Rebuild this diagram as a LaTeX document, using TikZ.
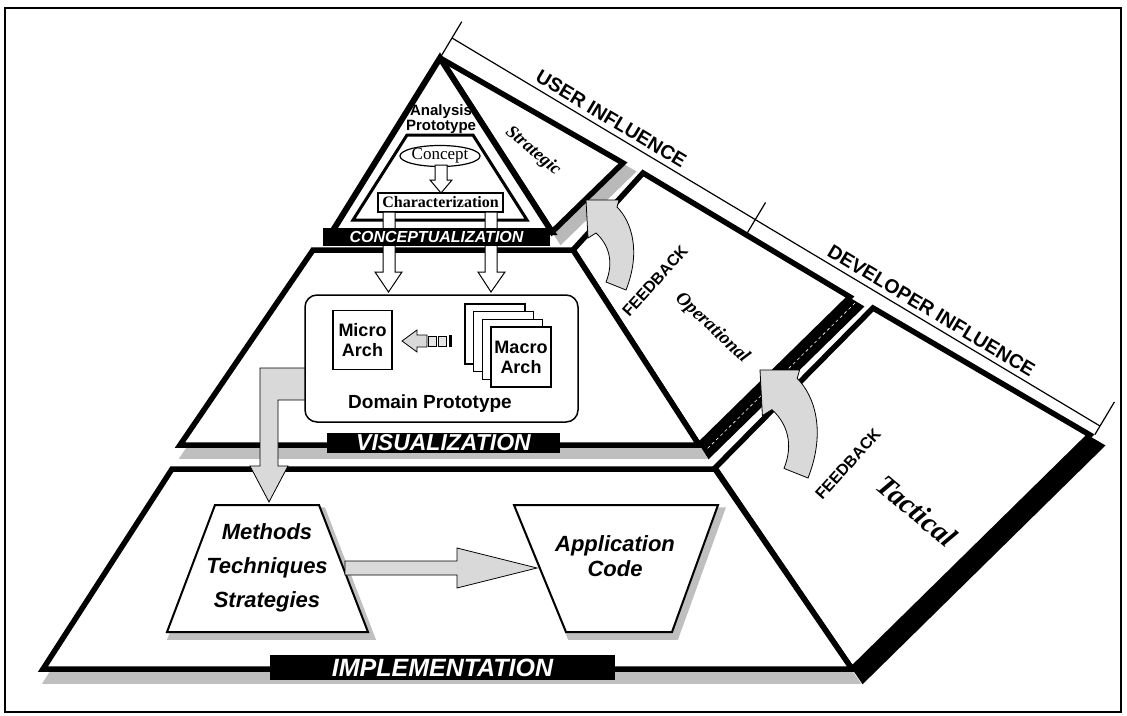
\documentclass[tikz,border=0pt]{standalone}
\usepackage{fontspec}
\setmainfont{Liberation Serif}
\setsansfont{Liberation Sans}
\usetikzlibrary{calc,shapes.geometric}

\newcommand{\fsz}[1]{\fontsize{#1}{#1}\selectfont}

\tikzset{
  panel/.style={draw=black, line width=5.5pt, fill=white, line join=miter, miter limit=4},
  castshade/.style 2 args={preaction={draw=#1, fill=#1, line width=5.5pt, line join=miter,
      miter limit=4, transform canvas={shift={#2}}}},
  levelbar/.style={fill=black, text=white, inner sep=0pt},
  blockarrow/.style={draw=black, line width=0.8pt, fill=gray!30},
  hollowarrow/.style={draw=black, line width=1pt, fill=white},
  thinbox/.style={draw=black, line width=1.5pt, fill=white},
  fbarrow/.pic={
    \draw[blockarrow] (0,0) -- (33,0) -- (31,7) .. controls (46,22) and (55,52) .. (40,90)
      -- (20,82) .. controls (28,62) and (23,45) .. (10,33) -- (2,38) -- cycle;
  },
}

\begin{document}
\begin{tikzpicture}[x=1pt, y=-1pt]
\useasboundingbox (0,0) rectangle (1127,715);

% Frame
\draw[line width=2pt] (5,8) rectangle (1121,712);

% Influence line
\coordinate (apex) at (440,58);
\coordinate (infstart) at (452,38);
\coordinate (infend) at (1100,426);
\coordinate (midtick) at ($(infstart)!0.468!(infend)$);
\draw[line width=1.2pt] (infstart) -- (infend)
  node[pos=0.236, sloped, anchor=south, inner sep=5pt, font=\sffamily\bfseries\fsz{19.5}] (userlbl) {USER INFLUENCE}
  node[pos=0.73, sloped, anchor=south, inner sep=5pt, font=\sffamily\bfseries\fsz{19.5}] (devlbl) {DEVELOPER INFLUENCE};
\draw[line width=1.2pt] ($(infstart)!19pt!90:(infend)$) -- (apex);
\draw[line width=1.2pt] ($(midtick)!20pt!90:(infend)$) -- ($(midtick)!16pt!-90:(infend)$);
\draw[line width=1.2pt] ($(infend)!28pt!-90:(infstart)$) -- ($(infend)!10pt!90:(infstart)$);

% Tactical and operational panels
\draw[castshade={black}{(11pt,-11pt)}, panel] (873,308) -- (1090,435) -- (852,669) -- (715,468) -- cycle;
\draw[castshade={black}{(10pt,-10pt)}, panel] (643,173) -- (850,297) -- (699,445) -- (573,250) -- cycle;
\draw[white, line width=0.6pt, dash pattern=on 3pt off 3pt] (855,303) -- (706,450);

% Implementation and visualization levels
\draw[castshade={gray!50}{(4pt,-12pt)}, panel] (172,469) -- (715,469) -- (852,669) -- (43,669) -- cycle;
\draw[castshade={gray!50}{(4pt,-11pt)}, panel] (313,250) -- (573,250) -- (699,445) -- (180,445) -- cycle;

% Strategic panel
\draw[castshade={gray!55}{(9pt,-9pt)}, panel] (apex) -- (623,163) -- (552,232) -- cycle;

% Conceptualization triangle
\fill[white] (apex) -- (552,232) -- (332,232) -- cycle;
\node[font=\sffamily\bfseries\fsz{15}, align=center, inner sep=0pt] (analysis) at (441,119) {Analysis\\Prototype};
\draw[line width=6pt, line join=miter, miter limit=4] (apex) -- (552,232) -- (332,232) -- cycle;
\draw[line width=3pt, line join=miter] (407,135) -- (473,135) -- (527,220) -- (353,220) -- cycle;
\node[draw, ellipse, line width=1.2pt, fill=white, minimum width=74pt, minimum height=18pt,
  inner sep=0pt, font=\fsz{17}] (concept) at (440,156) {Concept};
\draw[hollowarrow] (435,165) -- (447,165) -- (447,180) -- (452,180) -- (441,193) -- (430,180) -- (435,180) -- cycle;
\node[draw, line width=1.2pt, fill=white, minimum width=125pt, minimum height=19pt,
  inner sep=0pt, font=\bfseries\fsz{16}] (charact) at (440.5,202.5) {Characterization};

% Arrows down to the domain prototype
\draw[hollowarrow] (383,212) -- (395,212) -- (395,272) -- (402,272) -- (388.5,292) -- (375,272) -- (383,272) -- cycle;
\draw[hollowarrow] (485,212) -- (497,212) -- (497,272) -- (505,272) -- (491,292) -- (478,272) -- (485,272) -- cycle;
\node[levelbar, minimum width=227pt, minimum height=18pt, font=\sffamily\bfseries\itshape\fsz{16}] (conbar) at (436.5,237) {CONCEPTUALIZATION};

% L arrow from domain prototype to implementation
\draw[blockarrow] (310,368) -- (260,368) -- (260,466) -- (250,466) -- (269,502) -- (288,466)
  -- (278,466) -- (278,400) -- (310,400) -- cycle;

% Domain prototype
\draw[line width=1.5pt, rounded corners=12pt, fill=white] (305,295) rectangle (578,422);
\node[thinbox, minimum size=59pt, inner sep=0pt, align=center, font=\sffamily\bfseries\fontsize{18}{20}\selectfont] (micro) at (362.5,340) {Micro\\Arch};
\foreach \k in {0,1,2}
  \draw[thinbox] (465+8.7*\k, 304+7.7*\k) rectangle ++(60,60);
\node[thinbox, minimum size=60pt, inner sep=0pt, align=center, font=\sffamily\bfseries\fontsize{18}{20}\selectfont] (macro) at (521,357) {Macro\\Arch};
\draw[blockarrow] (402,341) -- (417,330) -- (417,335) -- (427,335) -- (427,347) -- (417,347) -- (417,352) -- cycle;
\draw[line width=0.8pt, fill=gray!20] (428,336) rectangle (436,346);
\draw[line width=0.8pt, fill=gray!20] (438,336) rectangle (446,346);
\fill (449,335) rectangle (452,347);
\node[font=\sffamily\bfseries\fsz{19}] (domain) at (430,404) {Domain Prototype};
\node[levelbar, minimum width=233pt, minimum height=20pt, font=\sffamily\bfseries\itshape\fsz{23}] (visbar) at (443.5,443) {VISUALIZATION};

% Implementation contents
\draw[castshade={gray!50}{(4pt,-5pt)}, draw=black, line width=2pt, fill=white, line join=miter]
  (215,505) -- (319,505) -- (368,632) -- (167,632) -- cycle;
\draw[castshade={gray!50}{(4pt,-5pt)}, draw=black, line width=2pt, fill=white, line join=miter]
  (514,505) -- (718,505) -- (672,632) -- (566,632) -- cycle;
\node[align=center, font=\sffamily\bfseries\itshape\fontsize{22}{34}\selectfont] (methods) at (267,568) {Methods\\Techniques\\Strategies};
\node[align=center, font=\sffamily\bfseries\itshape\fontsize{22}{25}\selectfont] (appcode) at (615,556) {Application\\Code};
\draw[blockarrow] (345,561) -- (457,561) -- (457,548) -- (537,568) -- (457,588) -- (457,575) -- (345,575) -- cycle;
\node[levelbar, minimum width=345pt, minimum height=25pt, font=\sffamily\bfseries\itshape\fsz{25}] (impbar) at (442.5,667.5) {IMPLEMENTATION};

% Feedback arrows
\pic at (586,200) {fbarrow};
\pic[scale=1.2] at (760,370) {fbarrow};
\node[rotate=48, font=\sffamily\bfseries\fsz{16}] (fback1) at (655,281) {FEEDBACK};
\node[rotate=48, font=\sffamily\bfseries\fsz{16}] (fback2) at (848,464) {FEEDBACK};

% Panel names
\node[rotate=-40, font=\bfseries\itshape\fsz{18}] (strategic) at (533,151) {Strategic};
\node[rotate=-43, font=\bfseries\itshape\fsz{19}] (operational) at (712,328) {Operational};
\node[rotate=-40, font=\bfseries\itshape\fsz{29}] (tactical) at (917,511) {Tactical};

\end{tikzpicture}
\end{document}
